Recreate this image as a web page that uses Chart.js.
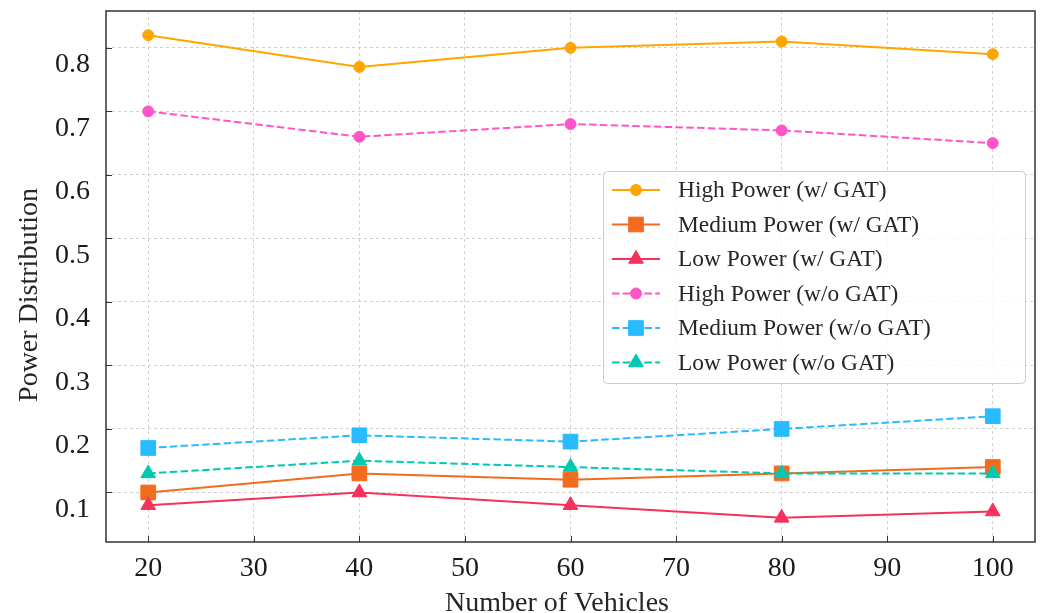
<!DOCTYPE html>
<html lang="en">
<head>
<meta charset="UTF-8">
<meta name="viewport" content="width=device-width, initial-scale=1.0">
<title>Power Distribution vs Number of Vehicles</title>
<script src="https://cdn.jsdelivr.net/npm/chart.js"></script>
<style>
    body {
        margin: 0;
        padding: 0;
        background: #fff;
    }

    .chart-box {
        position: relative;
        width: 1041px;
        height: 613px;
    }
</style>
</head>
<body>
<div class="chart-box">
    <canvas id="powerChart"></canvas>
</div>

<script>
    // Number of vehicles on the x axis
    const vehicles = [20, 40, 60, 80, 100];

    // Share of each power level, with and without GAT
    const highWithGat = [0.82, 0.77, 0.80, 0.81, 0.79];
    const mediumWithGat = [0.10, 0.13, 0.12, 0.13, 0.14];
    const lowWithGat = [0.08, 0.10, 0.08, 0.06, 0.07];
    const highNoGat = [0.70, 0.66, 0.68, 0.67, 0.65];
    const mediumNoGat = [0.17, 0.19, 0.18, 0.20, 0.22];
    const lowNoGat = [0.13, 0.15, 0.14, 0.13, 0.13];

    // Tick values
    const xTicks = [20, 30, 40, 50, 60, 70, 80, 90, 100];
    const yTicks = [0.1, 0.2, 0.3, 0.4, 0.5, 0.6, 0.7, 0.8];

    const serifFont = '"Liberation Serif", "Times New Roman", serif';
    const dashed = [7.5, 3.3];

    const series = [
        { label: 'High Power (w/ GAT)', values: highWithGat, color: '#ffa500', shape: 'circle', radius: 5.5, dash: [] },
        { label: 'Medium Power (w/ GAT)', values: mediumWithGat, color: '#f26b1f', shape: 'rect', radius: 10.4, dash: [] },
        { label: 'Low Power (w/ GAT)', values: lowWithGat, color: '#f5325b', shape: 'triangle', radius: 8.5, dash: [] },
        { label: 'High Power (w/o GAT)', values: highNoGat, color: '#ff55c8', shape: 'circle', radius: 5.5, dash: dashed },
        { label: 'Medium Power (w/o GAT)', values: mediumNoGat, color: '#29bbff', shape: 'rect', radius: 10.4, dash: dashed },
        { label: 'Low Power (w/o GAT)', values: lowNoGat, color: '#00c9b1', shape: 'triangle', radius: 8.5, dash: dashed }
    ];

    const datasets = series.map((s, i) => ({
        label: s.label,
        data: s.values.map((v, j) => ({ x: vehicles[j], y: v })),
        borderColor: s.color,
        backgroundColor: s.color,
        borderWidth: 2,
        borderDash: s.dash,
        pointStyle: s.shape,
        pointRadius: s.radius,
        pointBackgroundColor: s.color,
        pointBorderColor: s.color,
        pointBorderWidth: 1,
        tension: 0,
        order: series.length - i // later series sit on top
    }));

    // Axes frame, inward ticks, axis titles and the legend box
    const framePlugin = {
        id: 'frame',
        afterDatasetsDraw(chart) {
            const ctx = chart.ctx;
            const area = chart.chartArea;
            const xScale = chart.scales.x;
            const yScale = chart.scales.y;

            ctx.save();
            ctx.setLineDash([]);
            ctx.strokeStyle = '#333';
            ctx.lineWidth = 1;
            xTicks.forEach(v => {
                const px = Math.round(xScale.getPixelForValue(v)) + 0.5;
                ctx.beginPath();
                ctx.moveTo(px, area.bottom);
                ctx.lineTo(px, area.bottom - 6);
                ctx.stroke();
            });
            yTicks.forEach(v => {
                const py = Math.round(yScale.getPixelForValue(v)) + 0.5;
                ctx.beginPath();
                ctx.moveTo(area.left, py);
                ctx.lineTo(area.left + 6, py);
                ctx.stroke();
            });

            ctx.lineWidth = 1.5;
            ctx.strokeRect(area.left, area.top, area.right - area.left, area.bottom - area.top);

            // legend
            const box = { x: 603, y: 171, w: 422, h: 212 };
            ctx.fillStyle = 'rgba(255,255,255,0.8)';
            ctx.strokeStyle = '#cccccc';
            ctx.lineWidth = 1;
            ctx.beginPath();
            ctx.roundRect(box.x + 0.5, box.y + 0.5, box.w, box.h, 4);
            ctx.fill();
            ctx.stroke();

            ctx.font = '23.4px ' + serifFont;
            ctx.textBaseline = 'middle';
            ctx.textAlign = 'left';
            chart.data.datasets.forEach((ds, i) => {
                const y = 190 + i * 34.5;
                ctx.strokeStyle = ds.borderColor;
                ctx.lineWidth = 2;
                ctx.setLineDash(ds.borderDash);
                ctx.beginPath();
                ctx.moveTo(612, y);
                ctx.lineTo(660, y);
                ctx.stroke();
                ctx.setLineDash([]);
                ctx.fillStyle = ds.pointBackgroundColor;
                ctx.strokeStyle = ds.pointBorderColor;
                ctx.lineWidth = 1;
                Chart.helpers.drawPoint(ctx, {
                    pointStyle: ds.pointStyle,
                    radius: ds.pointRadius,
                    borderWidth: 1,
                    rotation: 0
                }, 636, y);
                ctx.fillStyle = '#262626';
                ctx.fillText(ds.label, 678, y + 1);
            });

            // axis titles
            ctx.fillStyle = '#262626';
            ctx.font = '28px ' + serifFont;
            ctx.textAlign = 'center';
            ctx.textBaseline = 'alphabetic';
            ctx.fillText('Number of Vehicles', 557, 611);

            ctx.translate(37, 295);
            ctx.rotate(-Math.PI / 2);
            ctx.fillText('Power Distribution', 0, 0);
            ctx.restore();
        }
    };

    new Chart(document.getElementById('powerChart'), {
        type: 'line',
        data: { datasets: datasets },
        options: {
            responsive: true,
            maintainAspectRatio: false,
            animation: false,
            layout: {
                autoPadding: false,
                padding: { top: 11, right: 6, left: 0, bottom: 0 }
            },
            plugins: {
                legend: { display: false },
                tooltip: { enabled: false }
            },
            scales: {
                x: {
                    type: 'linear',
                    min: 16,
                    max: 104,
                    afterBuildTicks: scale => {
                        scale.ticks = xTicks.map(v => ({ value: v }));
                    },
                    afterFit: scale => {
                        scale.height = 71;
                        scale.paddingLeft = 0;
                        scale.paddingRight = 0;
                    },
                    grid: {
                        color: '#d0d0d0',
                        lineWidth: 1,
                        drawTicks: false
                    },
                    border: { display: false, dash: [3, 3] },
                    ticks: {
                        padding: 10,
                        color: '#1a1a1a',
                        font: { family: serifFont, size: 28 },
                        maxRotation: 0,
                        callback: v => String(v)
                    }
                },
                y: {
                    type: 'linear',
                    min: 0.022,
                    max: 0.858,
                    afterBuildTicks: scale => {
                        scale.ticks = yTicks.map(v => ({ value: v }));
                    },
                    afterFit: scale => {
                        scale.width = 106;
                        scale.paddingTop = 0;
                        scale.paddingBottom = 0;
                    },
                    grid: {
                        color: '#d0d0d0',
                        lineWidth: 1,
                        drawTicks: false
                    },
                    border: { display: false, dash: [3, 3] },
                    ticks: {
                        padding: 16,
                        labelOffset: 17,
                        color: '#1a1a1a',
                        font: { family: serifFont, size: 28 },
                        callback: v => v.toFixed(1)
                    }
                }
            }
        },
        plugins: [framePlugin]
    });
</script>
</body>
</html>
